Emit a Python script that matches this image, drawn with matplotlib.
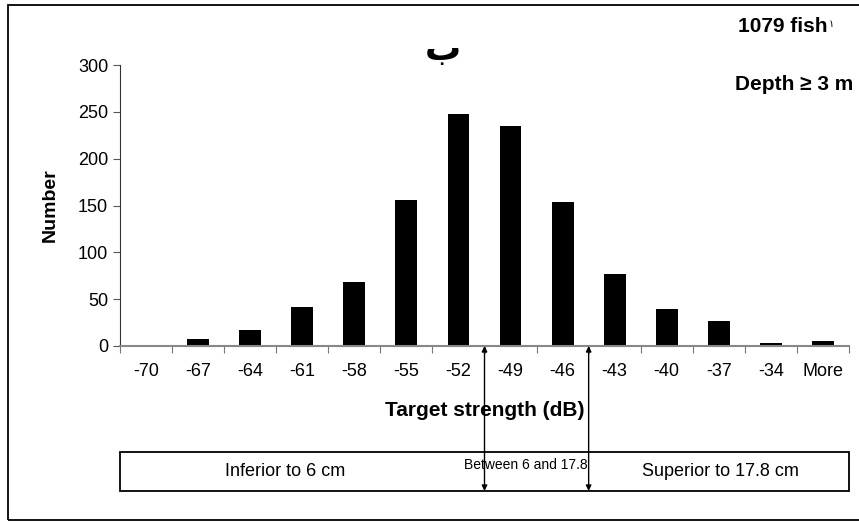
import numpy as np
import matplotlib.pyplot as plt
from matplotlib.patches import Rectangle

plt.rcParams['font.family'] = ['Liberation Sans', 'DejaVu Sans']

# target strength classes (dB) and fish counts per class
ts_labels = ['-70', '-67', '-64', '-61', '-58', '-55', '-52', '-49', '-46',
             '-43', '-40', '-37', '-34', 'More']
counts = [0, 7, 17, 42, 68, 156, 248, 235, 154, 77, 40, 27, 3, 5]
# class boundaries (between bins) that separate the size groups
size_limits = [6.5, 8.5]
size_groups = ['Inferior to 6 cm', 'Between 6 and 17.8', 'Superior to 17.8 cm']

fig = plt.figure(figsize=(8.59, 5.23), dpi=100)
ax = fig.add_axes([120/859, 1-346/523, 729/859, 281/523])

x = np.arange(len(counts))
ax.bar(x, counts, width=0.42, color='black')

ax.set_xlim(-0.5, len(counts)-0.5)
ax.set_ylim(0, 300)
ax.set_yticks(range(0, 301, 50))
ax.tick_params(axis='y', labelsize=13, length=5, color='#555555')

# ticks between bins, labels under bins
ax.set_xticks(np.arange(len(counts)+1)-0.5)
ax.set_xticklabels([])
ax.set_xticks(x, ts_labels, minor=True)
ax.tick_params(axis='x', which='major', length=5, color='#777777')
ax.tick_params(axis='x', which='minor', length=0, labelsize=13, pad=12)

for s in ['top', 'right']:
    ax.spines[s].set_visible(False)
ax.spines['left'].set_color('#333333')
ax.spines['bottom'].set_color('#888888')
ax.spines['bottom'].set_linewidth(1.5)

ax.set_ylabel('Number', fontsize=14, fontweight='bold', labelpad=14)
ax.set_xlabel('Target strength (dB)', fontsize=15, fontweight='bold', labelpad=15)

# size class box under the axis
box_lo, box_hi = -0.516, -0.377
ax.add_patch(Rectangle((0, box_lo), 1, box_hi-box_lo, transform=ax.transAxes,
                       fill=False, edgecolor='black', lw=1.3, clip_on=False))
ax.text(2.67, -0.445, size_groups[0], fontsize=13, ha='center', va='center',
        transform=ax.get_xaxis_transform())
ax.text(7.3, -0.425, size_groups[1], fontsize=10, ha='center', va='center',
        transform=ax.get_xaxis_transform())
ax.text(11.04, -0.445, size_groups[2], fontsize=13, ha='center', va='center',
        transform=ax.get_xaxis_transform())

for lim in size_limits:
    ax.annotate('', xy=(lim, 0), xytext=(lim, box_lo),
                xycoords=('data', 'axes fraction'),
                textcoords=('data', 'axes fraction'),
                arrowprops=dict(arrowstyle='<|-|>', color='black', lw=1,
                                mutation_scale=8, shrinkA=0, shrinkB=0))

fig.text(443/859, 1-50/523, 'ب', fontsize=26, fontweight='bold',
         ha='center', va='center', family='DejaVu Sans')
fig.text(827/859, 1-27/523, '1079 fish', fontsize=15, fontweight='bold',
         ha='right', va='center')
fig.text(831/859, 1-24/523, '١', fontsize=7, ha='center', va='center',
         family='DejaVu Sans')
fig.text(853/859, 1-85/523, 'Depth ≥ 3 m', fontsize=15, fontweight='bold',
         ha='right', va='center')

# outer frame
fig.patches.append(Rectangle((8/859, 1-520/523), 1.0, 515/523,
                             transform=fig.transFigure, fill=False,
                             edgecolor='black', lw=1.3))

fig.savefig('out.png', dpi=100)
